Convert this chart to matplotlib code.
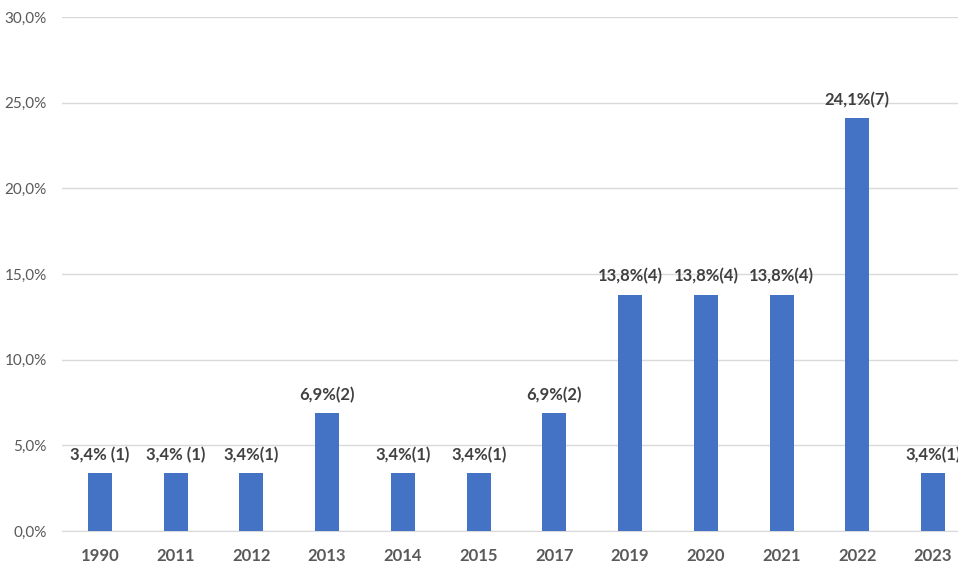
import matplotlib
matplotlib.use("Agg")
import matplotlib.pyplot as plt
from matplotlib.ticker import FuncFormatter

years = ["1990", "2011", "2012", "2013", "2014", "2015", "2017", "2019", "2020", "2021", "2022", "2023"]
values = [3.4, 3.4, 3.4, 6.9, 3.4, 3.4, 6.9, 13.8, 13.8, 13.8, 24.1, 3.4]
labels = ["3,4% (1)", "3,4% (1)", "3,4%(1)", "6,9%(2)", "3,4%(1)", "3,4%(1)", "6,9%(2)",
          "13,8%(4)", "13,8%(4)", "13,8%(4)", "24,1%(7)", "3,4%(1)"]
yticks = [0, 5, 10, 15, 20, 25, 30]

plt.rcParams['font.family'] = ['Lato', 'DejaVu Sans']

W, H = 958, 564
fig = plt.figure(figsize=(W / 100, H / 100), dpi=100)
left, right, bottom, top = 62, 971, 531, 17
ax = fig.add_axes([left / W, (H - bottom) / H, (right - left) / W, (bottom - top) / H])

x = list(range(len(years)))
ax.bar(x, values, width=0.32, color="#4472C4", zorder=3)
ax.set_xlim(-0.5, len(years) - 0.5)
ax.set_ylim(0, 30)
ax.set_yticks(yticks)
ax.yaxis.set_major_formatter(FuncFormatter(lambda v, p: f"{v:.1f}%".replace(".", ",")))
ax.set_xticks(x)
ax.set_xticklabels(years, fontsize=12, fontweight="bold", color="#595959")
ax.tick_params(axis="y", labelsize=11, labelcolor="#595959", length=0, pad=11)
ax.tick_params(axis="x", length=0, pad=12)
ax.grid(axis="y", color="#d9d9d9", linewidth=1, zorder=0)
for s in ["top", "right", "left"]:
    ax.spines[s].set_visible(False)
ax.spines["bottom"].set_color("#d9d9d9")

for xi, v, lab in zip(x, values, labels):
    ax.annotate(lab, (xi, v), xytext=(0, 13), textcoords="offset points",
                ha="center", va="center", fontsize=12, fontweight="bold",
                color="#404040", zorder=4, annotation_clip=False)

fig.savefig("out.png", dpi=100)
